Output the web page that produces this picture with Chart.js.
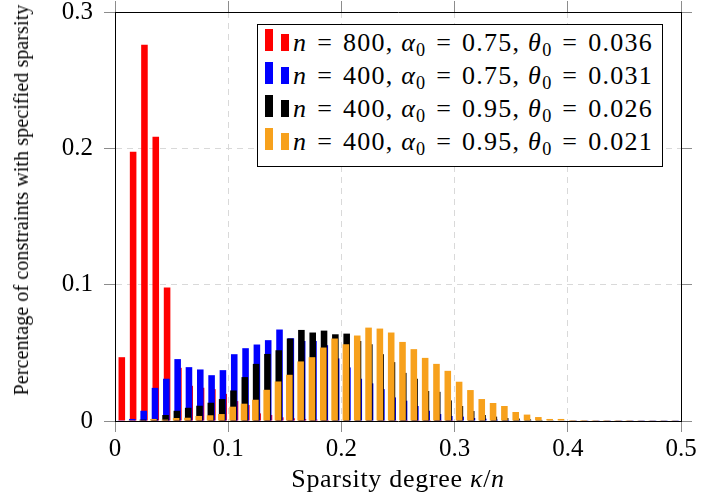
<!DOCTYPE html>
<html>
<head>
<meta charset="utf-8">
<script src="https://cdn.jsdelivr.net/npm/chart.js@4/dist/chart.umd.min.js"></script>
<style>
html,body{margin:0;padding:0;background:#fff;}
#wrap{position:relative;width:726px;height:497px;overflow:hidden;}
#c{position:absolute;left:0;top:0;}
.serif{font-family:"Liberation Serif","Times New Roman",serif;color:#000;}
#legend{position:absolute;left:257px;top:24px;width:406px;height:143px;border:1px solid #000;background:#fff;box-sizing:border-box;}
.row{position:absolute;left:7px;height:33px;line-height:33px;font-size:26px;white-space:nowrap;letter-spacing:1.25px;}
.sw{display:inline-block;width:8px;vertical-align:baseline;}
.sw2{margin-left:8px;margin-right:4px;}
.eq{margin:0 0.38em;}
.sub{font-size:0.7em;position:relative;top:0.28em;line-height:0;}
#xtitle{position:absolute;left:115px;width:566px;top:464px;text-align:center;font-size:26px;line-height:30px;white-space:nowrap;letter-spacing:0.7px;}
#ytitle{position:absolute;left:21px;top:200px;transform:translate(-50%,-50%) rotate(-90deg);font-size:20px;line-height:22px;white-space:nowrap;letter-spacing:0.1px;}
</style>
</head>
<body>
<div id="wrap">
<canvas id="c" width="726" height="497"></canvas>
<div id="legend" class="serif"></div>
<div id="xtitle" class="serif">Sparsity degree <i>κ</i>/<i>n</i></div>
<div id="ytitle" class="serif">Percentage of constraints with specified sparsity</div>
</div>
<script>
// ---- data ----
const bins = [0.005,0.015,0.025,0.035,0.045,0.055,0.065,0.075,0.085,0.095,
              0.105,0.115,0.125,0.135,0.145,0.155,0.165,0.175,0.185,0.195,
              0.205,0.215,0.225,0.235,0.245,0.255,0.265,0.275,0.285,0.295,
              0.305,0.315,0.325,0.335,0.345,0.355,0.365,0.375,0.385,0.395,
              0.405,0.415,0.425,0.435,0.445,0.455,0.465,0.475,0.485,0.495];

const red = [0.0468,0.1975,0.276,0.2085,0.098,0.039,0.0258,0.0244,0.0234,0.0199,
             0.0146,0.0117,0.0056,0.0044,0.0027,0.002,0.0015,0.001,0.0007,0.0005,
             0.0004,0.0003,0.0003,0.0002,0.0002,0.0001,0.0001,0.0001,0.0001,0.0001,
             0,0,0,0,0,0,0,0,0,0,
             0,0,0,0,0,0,0,0,0,0];
const blue = [0.0005,0.0015,0.0075,0.0243,0.031,0.0454,0.0395,0.0378,0.0336,0.0373,
              0.049,0.0534,0.0561,0.0593,0.0671,0.0607,0.0587,0.0587,0.0556,0.0459,
              0.0393,0.031,0.0276,0.0234,0.0173,0.0149,0.011,0.0075,0.0051,0.0037,
              0.0032,0.0022,0.0017,0.001,0.0008,0.0006,0.0005,0.0004,0.0003,0.0003,
              0.0002,0.0002,0.0002,0.0002,0.0002,0.0002,0.0002,0.0002,0.0002,0.0002];
const black = [0,0.0003,0.001,0.0015,0.0044,0.0075,0.0097,0.0112,0.0134,0.0161,
               0.0224,0.0322,0.0419,0.0492,0.0519,0.0605,0.0668,0.0649,0.0663,0.0636,
               0.0641,0.0587,0.0563,0.049,0.0432,0.0353,0.031,0.022,0.0214,0.0151,
               0.011,0.0073,0.0044,0.0032,0.0022,0.0018,0.0012,0.0008,0.0005,0.0004,
               0.0003,0.0003,0.0003,0.0003,0.0003,0.0003,0.0003,0.0003,0.0003,0.0003];
const orange = [0,0.0005,0.0005,0.0015,0.001,0.0022,0.0024,0.0037,0.0042,0.0051,
                0.0105,0.0127,0.0156,0.0229,0.029,0.0339,0.0437,0.0468,0.0539,0.0605,
                0.0563,0.0627,0.0685,0.0678,0.0649,0.058,0.0527,0.0463,0.0419,0.0368,
                0.0288,0.0227,0.0161,0.0132,0.011,0.0066,0.0047,0.0029,0.0015,0.0015,
                0.0007,0.0007,0.0006,0.0006,0.0006,0.0006,0.0005,0.0005,0.0005,0.0005];

const seriesN = ['800','400','400','400'];
const seriesAlpha = ['0.75','0.75','0.95','0.95'];
const seriesTheta = ['0.036','0.031','0.026','0.021'];
const seriesColors = ['#ff0000','#0000ff','#000000','#f7a11c'];
const seriesValues = [red, blue, black, orange];

const xTicks = [0,0.1,0.2,0.3,0.4,0.5];
const xTickLabels = ['0','0.1','0.2','0.3','0.4','0.5'];
const yTicks = [0,0.1,0.2,0.3];
const yTickLabels = ['0','0.1','0.2','0.3'];

// ---- build ----
const labelOf = i => `n = ${seriesN[i]}, α0 = ${seriesAlpha[i]}, θ0 = ${seriesTheta[i]}`;
// orange first so it is drawn on top (and leftmost in each group)
const order = [3,2,1,0];
const datasets = order.map(i => ({
  label: labelOf(i),
  data: bins.map((b,k) => ({x:b, y:seriesValues[i][k]})),
  backgroundColor: seriesColors[i],
  borderWidth: 0
}));

const tickFont = {family:'"Liberation Serif","Times New Roman",serif', size:25};
const gridCol = '#d9d9d9';
const tickCol = '#8c8c8c';

new Chart(document.getElementById('c'), {
  type:'bar',
  data:{datasets},
  options:{
    responsive:false,
    animation:false,
    layout:{padding:0},
    plugins:{legend:{display:false}, tooltip:{enabled:false}},
    datasets:{bar:{categoryPercentage:0.27, barPercentage:8.6, grouped:true}},
    scales:{
      x:{type:'linear', position:'bottom', min:0, max:0.5, offset:false,
         afterBuildTicks:s=>{s.ticks = xTicks.map(v=>({value:v}));},
         afterFit:s=>{s.height=76; s.paddingLeft=0; s.paddingRight=0;},
         ticks:{callback:(v,i)=>xTickLabels[i], font:tickFont, color:'#000', padding:2, maxRotation:0, autoSkip:false},
         grid:{offset:false, color:gridCol, tickColor:tickCol, tickLength:11, lineWidth:1},
         border:{color:'#000', width:1, dash:[6,5]}},
      x2:{type:'linear', position:'top', min:0, max:0.5, offset:false,
         afterBuildTicks:s=>{s.ticks = xTicks.map(v=>({value:v}));},
         afterFit:s=>{s.height=12; s.paddingLeft=0; s.paddingRight=0;},
         ticks:{display:false},
         grid:{offset:false, drawOnChartArea:false, tickColor:tickCol, tickLength:11},
         border:{color:'#000', width:1}},
      y:{type:'linear', position:'left', min:0, max:0.3,
         afterBuildTicks:s=>{s.ticks = yTicks.map(v=>({value:v}));},
         afterFit:s=>{s.width=115; s.paddingTop=0; s.paddingBottom=0;},
         ticks:{callback:(v,i)=>yTickLabels[i], font:tickFont, color:'#000', padding:11},
         grid:{color:gridCol, tickColor:tickCol, tickLength:11, lineWidth:1},
         border:{color:'#000', width:1, dash:[6,5]}},
      y2:{type:'linear', position:'right', min:0, max:0.3,
         afterBuildTicks:s=>{s.ticks = yTicks.map(v=>({value:v}));},
         afterFit:s=>{s.width=45; s.paddingTop=0; s.paddingBottom=0;},
         ticks:{display:false},
         grid:{drawOnChartArea:false, tickColor:tickCol, tickLength:11},
         border:{color:'#000', width:1}}
    }
  }
});

// ---- legend (HTML, built from the series arrays) ----
const lg = document.getElementById('legend');
seriesN.forEach((n,i) => {
  const row = document.createElement('div');
  row.className = 'row';
  row.style.top = (1.4 + 33*i) + 'px';
  const c = seriesColors[i];
  row.innerHTML =
    `<span class="sw" style="height:22px;background:${c}"></span>` +
    `<span class="sw sw2" style="height:17px;background:${c}"></span>` +
    `<i>n</i><span class="eq">=</span>${n}, <i>α</i><span class="sub">0</span><span class="eq">=</span>${seriesAlpha[i]}, ` +
    `<i>θ</i><span class="sub">0</span><span class="eq">=</span>${seriesTheta[i]}`;
  lg.appendChild(row);
});
</script>
</body>
</html>
